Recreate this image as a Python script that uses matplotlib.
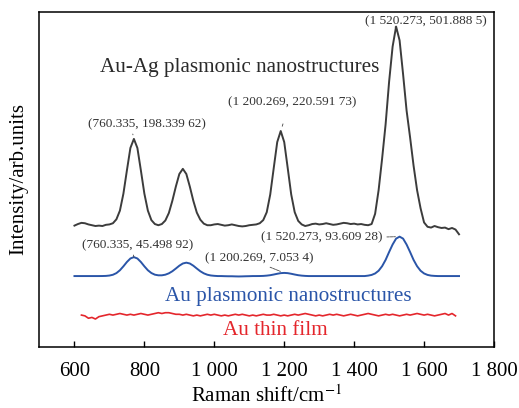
import numpy as np
import matplotlib.pyplot as plt

plt.rcParams.update({
    'font.family': 'Liberation Serif',
    'mathtext.fontset': 'stix',
    'font.size': 15,
    'axes.linewidth': 1.1,
})

# Raman shift grids (cm^-1)
shift = np.arange(600, 1701, 10)
shift_film = np.arange(620, 1691, 10)

# intensities relative to each spectrum's own baseline (arb. units)
auag = [
    -2, 2, 5, 4, 1, -1, -3, -2, -3, 0,
    1, 4, 14, 36, 79, 138, 195, 218, 195, 138,
    79, 36, 12, 2, -1, 2, 11, 30, 61, 97,
    129, 142, 129, 97, 61, 31, 13, 3, -1, -1,
    1, 2, 0, -2, -1, 1, -1, -3, -4, -3,
    -1, 0, 1, 4, 12, 32, 77, 144, 210, 238,
    210, 144, 77, 32, 10, 1, -3, -1, 2, 3,
    1, 2, 4, 2, 0, 1, 3, 5, 4, 2,
    3, 1, 2, 0, -1, 2, 28, 88, 168, 255,
    363, 452, 503, 468, 382, 290, 222, 150, 88, 42,
    6, -5, -7, -3, -6, -8, -7, -11, -8, -12,
    -24,
]
au_nano = [
    0, 0, 0, 0, 0, 0, 0, 0, 0.1, 0.4,
    1.3, 3.3, 7.5, 14.7, 24.7, 35.7, 44.6, 48, 44.6, 35.7,
    24.7, 14.7, 7.7, 3.5, 1.9, 1.9, 3.5, 6.9, 12.2, 19.1,
    26.3, 31.9, 34, 31.9, 26.3, 19.1, 12.2, 6.9, 3.4, 1.5,
    0.6, 0, 0, -0.3, -0.5, -0.5, -0.8, -1, -0.8, -0.5,
    -0.3, 0, 0, 0.1, 0.4, 1.1, 2.2, 3.9, 5.8, 7.4,
    8, 7.4, 5.8, 3.9, 2.2, 1.1, 0.4, 0, 0, 0,
    0, 0, 0, 0, 0, 0, 0, 0, 0, 0,
    0, 0, 0, 0, 1.1, 2.9, 6.6, 13.5, 25, 41,
    61, 80, 95, 100, 95, 80, 61, 41, 25, 13.5,
    6.6, 2.9, 1.1, 0.4, 0, 0, 0, 0, 0, 0,
    0,
]
au_film = [
    0, -2, -8, -6, -10, -4, -2, 0, 2, 0,
    2, 4, 2, 0, 2, 0, 2, 4, 2, 0,
    2, 4, 6, 4, 6, 6, 4, 2, 2, 0,
    2, 0, -2, 0, -2, 0, 2, 0, 2, 0,
    -2, 0, -2, 0, 2, 0, 2, 0, -2, 0,
    -2, 0, 2, 0, 0, 2, 0, -2, 0, -2,
    0, 2, 0, 2, 4, 2, 0, -2, 0, -2,
    0, 2, 0, 2, 0, -2, 0, 2, 0, -2,
    0, 2, 4, 2, 0, -2, 0, 2, 0, 2,
    0, -2, 0, 2, 0, 2, 4, 2, 0, 2,
    0, -2, 0, 2, 4, 0, 4, -2,
]

# vertical offsets used to stack the spectra
offset_auag = 310
offset_nano = 180
offset_film = 81

xticks = [600, 800, 1000, 1200, 1400, 1600, 1800]
xtick_labels = ['600', '800', '1 000', '1 200', '1 400', '1 600', '1 800']

# marked peaks: index into shift, printed label
auag_marks = [(17, '(760.335, 198.339 62)'), (59, '(1 200.269, 220.591 73)'), (92, '(1 520.273, 501.888 5)')]
nano_marks = [(17, '(760.335, 45.498 92)'), (60, '(1 200.269, 7.053 4)'), (93, '(1 520.273, 93.609 28)')]

c_black = '#3c3c3c'
c_blue = '#2a55a8'
c_red = '#e4262c'

fig = plt.figure(figsize=(5.19, 4.08), dpi=100)
ax = fig.add_axes([0.0761, 0.1495, 0.8757, 0.8211])

y_auag = offset_auag + np.array(auag)
y_nano = offset_nano + np.array(au_nano)
y_film = offset_film + np.array(au_film)

ax.plot(shift, y_auag, color=c_black, lw=1.4)
ax.plot(shift, y_nano, color=c_blue, lw=1.4)
ax.plot(shift_film, y_film, color=c_red, lw=1.2)

ax.set_xlim(500, 1800)
ax.set_ylim(0, 850)
ax.set_xticks(xticks)
ax.set_xticklabels(xtick_labels)
ax.set_yticks([])
ax.tick_params(axis='x', direction='in', length=4, width=1, pad=11, labelsize=15)
ax.set_xlabel('Raman shift/cm$^{-1}$', fontsize=15, labelpad=3)
ax.set_ylabel('Intensity/arb.units', fontsize=15, labelpad=8)

# series names
ax.text(1073, 710, 'Au-Ag plasmonic nanostructures', ha='center', va='center', fontsize=15.2, color='#2a2a2a')
ax.text(1212, 127, 'Au plasmonic nanostructures', ha='center', va='center', fontsize=15.2, color=c_blue)
ax.text(1175, 43, 'Au thin film', ha='center', va='center', fontsize=15.2, color=c_red)

# peak labels: text position, start point of leader on the text, gap at text
auag_text = [((808, 566), (0.37, 0), 1), ((1222, 622), (0.47, 0), 10), ((1604, 827), (0.25, 0), 0)]
nano_text = [((782, 259), (0.45, 0), 1), ((1130, 226), (0.52, 0), 1), ((1308, 279), (1, 0.5), 1)]

for (i, label), (xyt, rp, gap) in zip(auag_marks, auag_text):
    ax.annotate(label, xy=(shift[i], y_auag[i]), xytext=xyt, ha='center', va='center',
                fontsize=9.5, color='#333333',
                arrowprops=dict(arrowstyle='-', lw=0.6, color='#444444', relpos=rp,
                                shrinkA=gap, shrinkB=3, ls=(0, (3, 1))))
for (i, label), (xyt, rp, gap) in zip(nano_marks, nano_text):
    ax.annotate(label, xy=(shift[i], y_nano[i]), xytext=xyt, ha='center', va='center',
                fontsize=9.5, color='#333333',
                arrowprops=dict(arrowstyle='-', lw=0.6, color='#444444', relpos=rp,
                                shrinkA=gap, shrinkB=3, ls=(0, (3, 1))))

fig.savefig('out.png', dpi=100)
